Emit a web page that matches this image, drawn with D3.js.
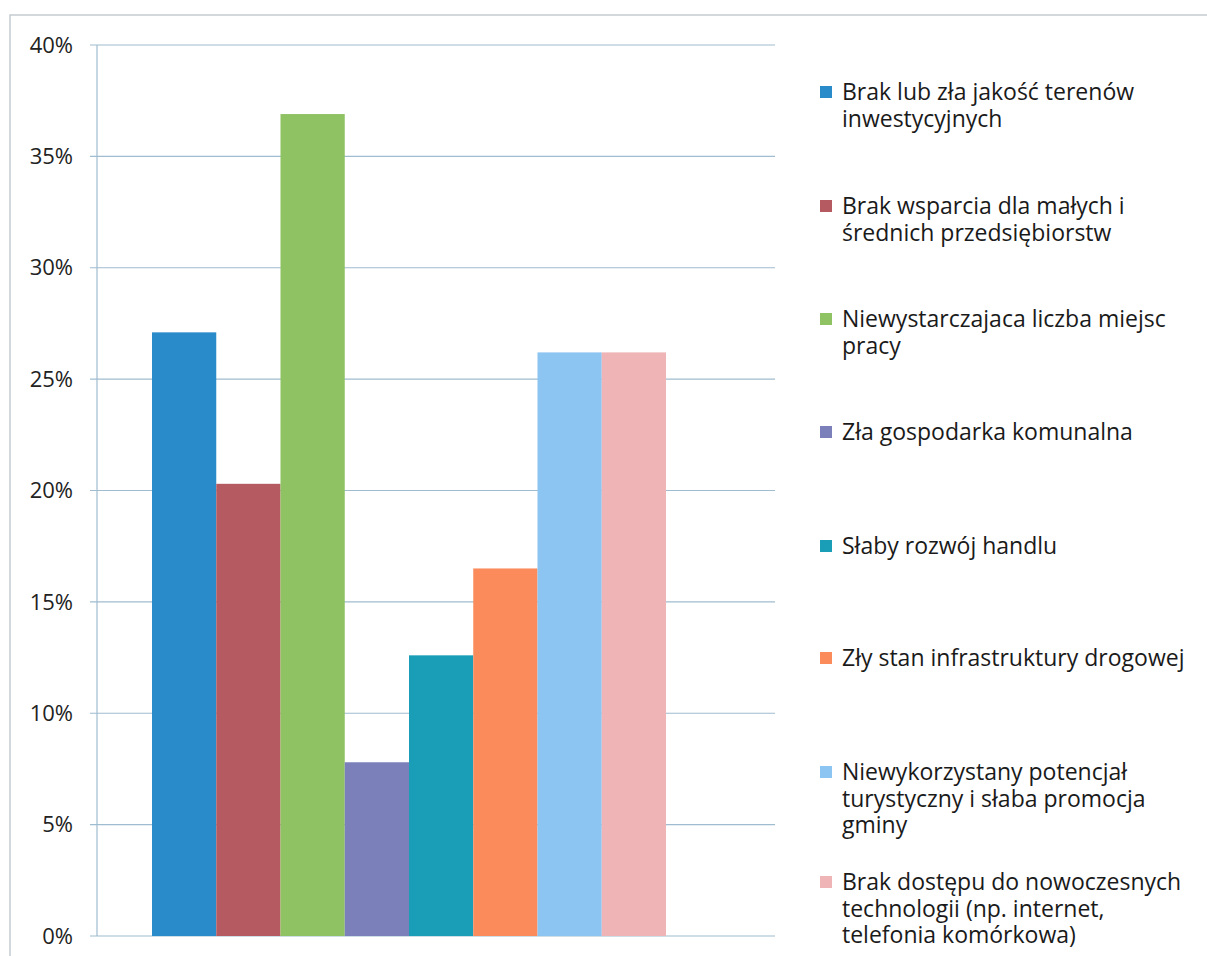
<!DOCTYPE html>
<html>
<head>
<meta charset="utf-8">
<script src="https://cdn.jsdelivr.net/npm/d3@7"></script>
<style>
  body { margin: 0; background: #fff; }
  svg { display: block; font-family: "Open Sans", Lato, sans-serif; }
</style>
</head>
<body>
<script>
// categories (legend order = bar order)
var categories = [
  "Brak lub zła jakość terenów inwestycyjnych",
  "Brak wsparcia dla małych i średnich przedsiębiorstw",
  "Niewystarczajaca liczba miejsc pracy",
  "Zła gospodarka komunalna",
  "Słaby rozwój handlu",
  "Zły stan infrastruktury drogowej",
  "Niewykorzystany potencjał turystyczny i słaba promocja gminy",
  "Brak dostępu do nowoczesnych technologii (np. internet, telefonia komórkowa)"
];
// legend lines as wrapped in the picture
var legendLines = [
  ["Brak lub zła jakość terenów", "inwestycyjnych"],
  ["Brak wsparcia dla małych i", "średnich przedsiębiorstw"],
  ["Niewystarczajaca liczba miejsc", "pracy"],
  ["Zła gospodarka komunalna"],
  ["Słaby rozwój handlu"],
  ["Zły stan infrastruktury drogowej"],
  ["Niewykorzystany potencjał", "turystyczny i słaba promocja", "gminy"],
  ["Brak dostępu do nowoczesnych", "technologii (np. internet,", "telefonia komórkowa)"]
];
var values = [27.1, 20.3, 36.9, 7.8, 12.6, 16.5, 26.2, 26.2];
var colors = ["#2a8bcb", "#b45a60", "#8fc263", "#7b80bb", "#1a9db6", "#fb8b5b", "#8cc4f2", "#efb4b5"];
var yTicks = [0, 5, 10, 15, 20, 25, 30, 35, 40];

var width = 1207, height = 956;

var svg = d3.select("body").append("svg")
    .attr("width", width)
    .attr("height", height);

// chart frame (scan shows its left and top edges)
svg.append("path")
    .attr("d", "M10,956 L10,15 L1207,15")
    .attr("fill", "none")
    .attr("stroke", "#c3cbd0")
    .attr("stroke-width", 1.5);

var y = d3.scaleLinear()
    .domain([0, 40])
    .range([936, 45]);

var x = d3.scaleBand()
    .domain(categories)
    .range([152, 666])
    .padding(0);

var plotLeft = 97, plotRight = 775;

// gridlines
svg.append("g")
  .selectAll("line")
  .data(yTicks)
  .enter()
  .append("line")
    .attr("x1", plotLeft - 7)
    .attr("x2", plotRight)
    .attr("y1", function(d) { return y(d); })
    .attr("y2", function(d) { return y(d); })
    .attr("stroke", "#9fbcd0")
    .attr("stroke-width", 1.2);

// left axis line
svg.append("line")
    .attr("x1", plotLeft).attr("x2", plotLeft)
    .attr("y1", y(40)).attr("y2", y(0))
    .attr("stroke", "#9fbcd0")
    .attr("stroke-width", 1.2);

// tick labels
svg.append("g")
  .selectAll("text")
  .data(yTicks)
  .enter()
  .append("text")
    .attr("x", 73)
    .attr("y", function(d) { return y(d); })
    .attr("dy", "0.35em")
    .attr("text-anchor", "end")
    .attr("font-size", 22)
    .attr("fill", "#222")
    .text(function(d) { return d + "%"; });

// bars
svg.append("g")
  .selectAll("rect")
  .data(values)
  .enter()
  .append("rect")
    .attr("x", function(d, i) { return x(categories[i]); })
    .attr("y", function(d) { return y(d); })
    .attr("width", x.bandwidth())
    .attr("height", function(d) { return y(0) - y(d); })
    .attr("fill", function(d, i) { return colors[i]; });

// legend
var legendY = [92, 206, 319, 432, 546, 658, 772, 882];
var lineH = 26.5;

var item = svg.append("g")
  .selectAll("g")
  .data(legendLines)
  .enter()
  .append("g")
    .attr("transform", function(d, i) { return "translate(0," + legendY[i] + ")"; });

item.append("rect")
    .attr("x", 820)
    .attr("y", -6)
    .attr("width", 12)
    .attr("height", 12)
    .attr("fill", function(d, i) { return colors[i]; });

item.append("text")
    .attr("font-size", 23)
    .attr("fill", "#1a1a1a")
  .selectAll("tspan")
  .data(function(d) { return d; })
  .enter()
  .append("tspan")
    .attr("x", 842)
    .attr("y", function(d, j) { return j * lineH; })
    .attr("dy", "0.35em")
    .text(function(d) { return d; });
</script>
</body>
</html>
